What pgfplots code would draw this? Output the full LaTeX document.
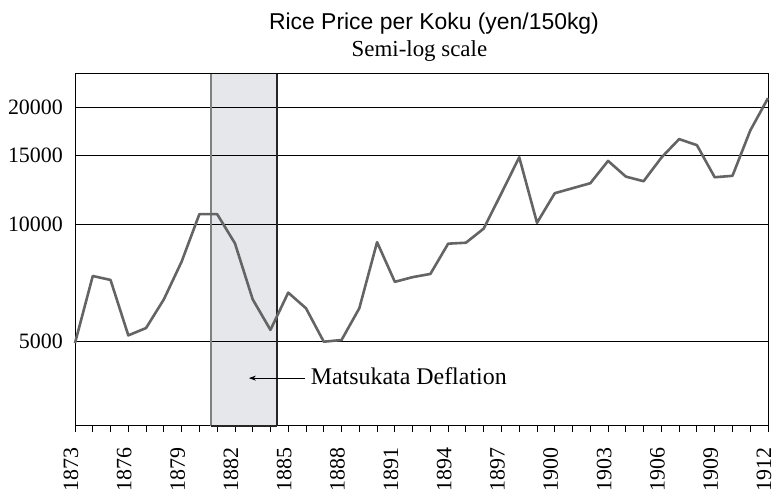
\documentclass[border=0pt]{standalone}
\usepackage{fontspec}
\setmainfont{Liberation Serif}
\newfontfamily\titlefont{Liberation Sans}
\usepackage{pgfplots}
\pgfplotsset{compat=1.18}
\usetikzlibrary{arrows.meta}
\definecolor{linegray}{RGB}{100,100,100}
\definecolor{shadegray}{RGB}{230,231,234}
\begin{document}
\begin{tikzpicture}
\begin{axis}[
  set layers,
  scale only axis,
  width=693bp, height=352bp,
  xmin=1873, xmax=1912,
  ymode=log, ymin=3023, ymax=24310,
  xtick={1873,1876,...,1912},
  minor xtick={1873,...,1912},
  xtick pos=lower,
  xtick align=outside,
  ytick align=inside,
  major tick length=6bp, minor tick length=6bp,
  xtick style={draw=black, line width=0.8bp},
  x tick label style={xshift=-4bp, rotate=90, anchor=east, inner sep=0pt, font=\fontsize{22}{24}\selectfont},
  xticklabel shift=15bp,
  xticklabel={\pgfmathprintnumber[1000 sep={},fixed]{\tick}},
  /pgf/number format/assume math mode=true,
  ytick={5000,10000,15000,20000},
  yticklabels={5000,10000,15000,20000},
  ytick style={draw=none},
  y tick label style={font=\fontsize{22}{24}\selectfont, inner sep=0pt},
  yticklabel shift=12bp,
  ymajorgrids,
  major grid style={black, line width=0.9bp},
  axis line style={black, line width=1bp},
  clip=false,
]
\begin{pgfonlayer}{axis background}
\fill[shadegray] (axis cs:1880.65,3023) rectangle (axis cs:1884.38,24310);
\end{pgfonlayer}
\draw[gray, line width=1.2bp] (axis cs:1880.65,3023) -- (axis cs:1880.65,24310);
\draw[black!85, line width=1.5bp] (axis cs:1884.38,3023) -- (axis cs:1884.38,24310);
\draw[black!85, line width=1.5bp] (axis cs:1880.65,3023) -- (axis cs:1884.38,3023);
\addplot[linegray, line width=2.6bp, line join=round, mark=none] coordinates {
(1873,4940) (1874,7350) (1875,7180) (1876,5170) (1877,5400) (1878,6400)
(1879,8000) (1880,10600) (1881,10600) (1882,8920) (1883,6400) (1884,5340)
(1885,6660) (1886,6070) (1887,4980) (1888,5030) (1889,6070) (1890,8980)
(1891,7100) (1892,7300) (1893,7440) (1894,8900) (1895,8950) (1896,9730)
(1897,12000) (1898,14850) (1899,10070) (1900,12000) (1901,12360) (1902,12730)
(1903,14530) (1904,13240) (1905,12880) (1906,14820) (1907,16530) (1908,15950)
(1909,13190) (1910,13300) (1911,17390) (1912,21070)
};
\draw[-{Stealth[length=7bp,width=5bp]}, line width=0.8bp] (rel axis cs:0.332,0.136) -- (rel axis cs:0.251,0.136);
\node[anchor=base west, inner sep=0pt, font=\fontsize{24}{26}\selectfont] at (rel axis cs:0.340,0.1165) {Matsukata Deflation};
\node[anchor=base, inner sep=0pt, font=\titlefont\fontsize{23}{25}\selectfont] at ([yshift=44bp]rel axis cs:0.518,1) {Rice Price per Koku (yen/150kg)};
\node[anchor=base, inner sep=0pt, font=\fontsize{23}{25}\selectfont] at ([yshift=17bp]rel axis cs:0.497,1) {Semi-log scale};
\coordinate (bl) at (rel axis cs:0,0);
\end{axis}
\path (bl) ++(-75bp,-65bp) rectangle ++(775bp,491bp);
\end{tikzpicture}
\end{document}
